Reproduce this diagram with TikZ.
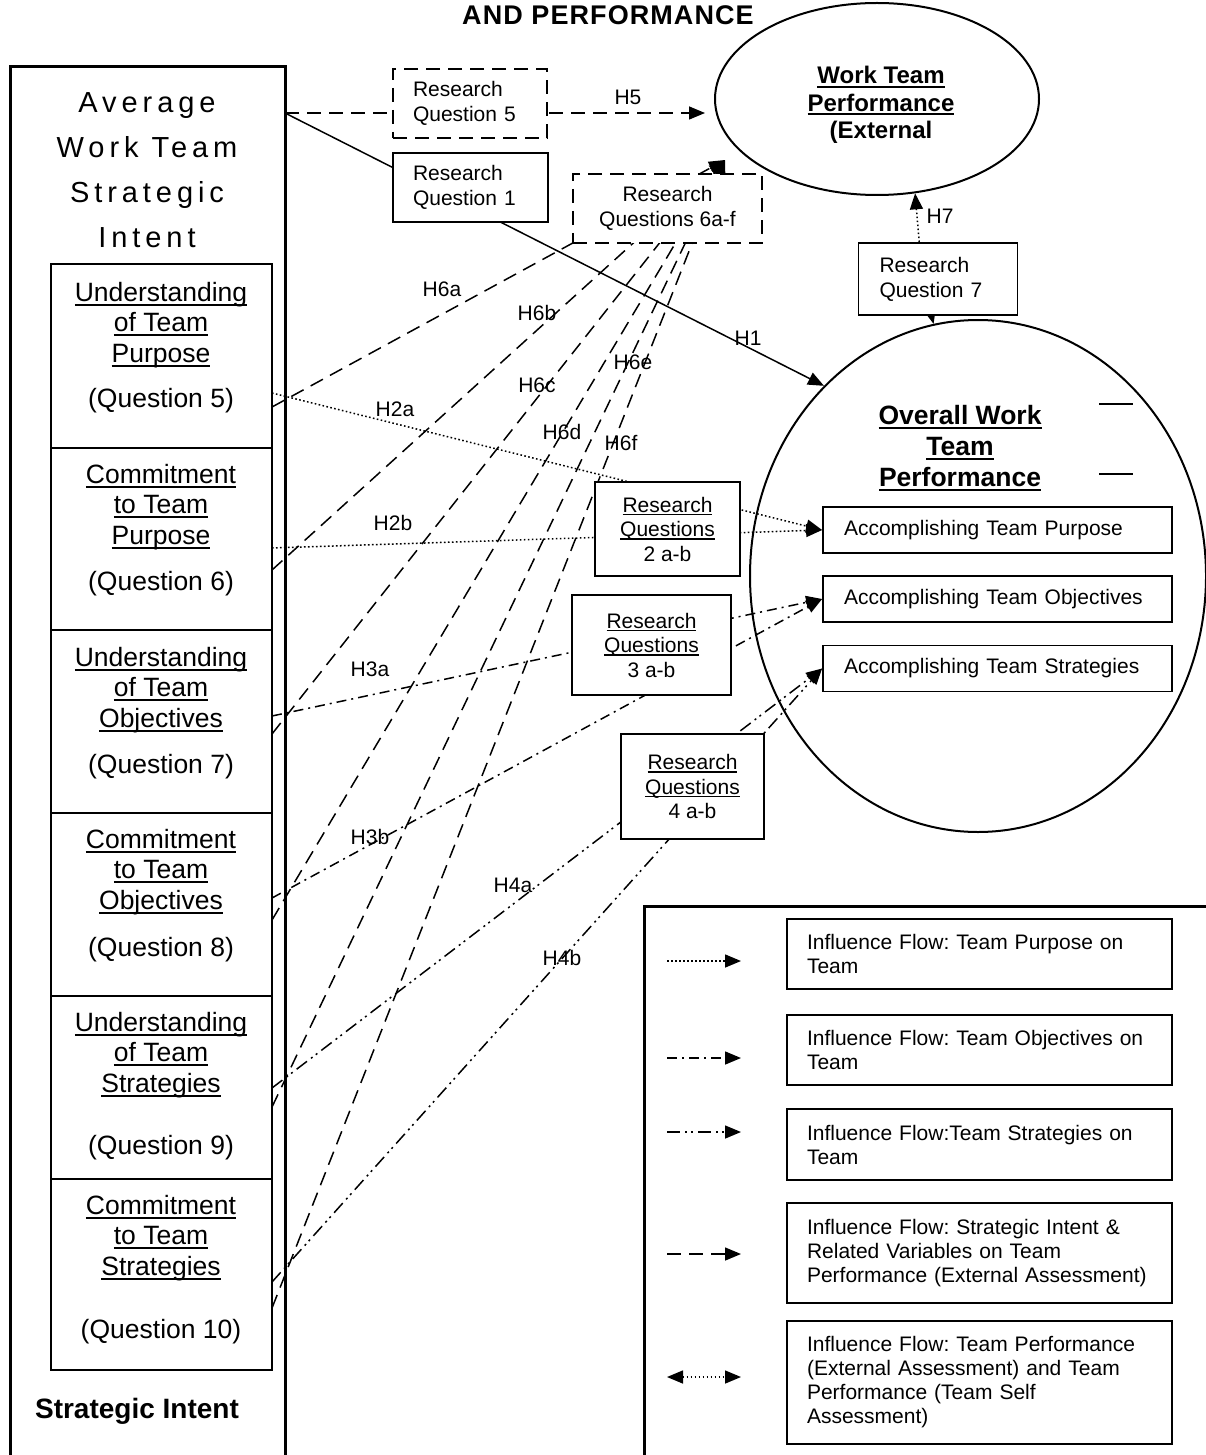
\documentclass[tikz,border=0pt]{standalone}
\usepackage{fontspec}
\setmainfont{Liberation Sans}
\newfontfamily\spacedfont[LetterSpace=17]{Liberation Sans}
\newfontfamily\headfont[LetterSpace=4]{Liberation Sans}
\usetikzlibrary{arrows.meta,shapes.geometric,backgrounds}
\frenchspacing
\newcommand{\fsz}[2]{\fontsize{#1}{#2}\selectfont}
\newsavebox{\ulinebox}
\newcommand{\undl}[1]{\sbox{\ulinebox}{#1}\rlap{\rule[-0.16em]{\wd\ulinebox}{0.07em}}\usebox{\ulinebox}}
\tikzset{
  conn/.style={line width=1.5pt},
  dotline/.style={conn,dash pattern=on 1.6pt off 2.4pt},
  objline/.style={conn,dash pattern=on 10pt off 5pt on 2pt off 5pt},
  stratline/.style={conn,dash pattern=on 13pt off 5pt on 2pt off 4pt on 2pt off 5pt},
  intline/.style={conn,dash pattern=on 14pt off 8pt},
  rqbox/.style={draw,fill=white,line width=1.8pt,inner sep=0pt,font=\fsz{21}{25}},
  rqleft/.style={rqbox,align=left,inner xsep=20pt},
  rqmid/.style={rqbox,align=center,font=\fsz{21}{24.5}},
  accbox/.style={draw,line width=1.8pt,text width=307pt,inner xsep=21pt,inner ysep=0pt,minimum height=46pt,align=left,font=\fsz{21}{25}},
  legbox/.style={draw,line width=1.8pt,text width=345pt,inner xsep=20pt,inner ysep=0pt,align=left,font=\fsz{21}{24}},
  celltext/.style={align=center,font=\fsz{26.5}{30.5}},
  hlabel/.style={font=\fsz{21}{25}},
}
\begin{document}
\begin{tikzpicture}[x=1pt,y=-1pt,line width=1.5pt,>={Triangle[length=16pt,width=13pt]}]
\useasboundingbox (0,0) rectangle (1206,1455);
\clip (0,0) rectangle (1206,1455);

\node[anchor=base,font=\headfont\bfseries\fsz{27}{30}] (title) at (608,25) {AND PERFORMANCE};

% strategic intent column
\draw[line width=3pt] (10,67) rectangle (285,1480);
\node[align=center,font=\spacedfont\fsz{29}{45}] (avg) at (147,170) {Average\\Work Team\\Strategic\\Intent};
\foreach \t/\b in {264/448,448/630,630/813,813/996,996/1179,1179/1370}
  \draw[line width=2pt] (51,\t) rectangle (272,\b);
\node[celltext] (u1) at (161,325) {\undl{Understanding}\\\undl{of Team}\\\undl{Purpose}};
\node[celltext] (q1) at (161,401) {(Question 5)};
\node[celltext] (u2) at (161,507) {\undl{Commitment}\\\undl{to Team}\\\undl{Purpose}};
\node[celltext] (q2) at (161,584) {(Question 6)};
\node[celltext] (u3) at (161,690) {\undl{Understanding}\\\undl{of Team}\\\undl{Objectives}};
\node[celltext] (q3) at (161,767) {(Question 7)};
\node[celltext] (u4) at (161,872) {\undl{Commitment}\\\undl{to Team}\\\undl{Objectives}};
\node[celltext] (q4) at (161,950) {(Question 8)};
\node[celltext] (u5) at (161,1055) {\undl{Understanding}\\\undl{of Team}\\\undl{Strategies}};
\node[celltext] (q5) at (161,1148) {(Question 9)};
\node[celltext] (u6) at (161,1238) {\undl{Commitment}\\\undl{to Team}\\\undl{Strategies}};
\node[celltext] (q6) at (161,1332) {(Question 10)};
\node[anchor=base,font=\bfseries\fsz{28}{32}] (sitxt) at (137,1418) {Strategic Intent};

% performance
\node[draw,ellipse,line width=2pt,minimum width=324pt,minimum height=192pt,inner sep=0pt] (perfext) at (877,99) {};
\node[align=center,font=\bfseries\fsz{24}{27.5}] (perfexttxt) at (881,105) {\undl{Work Team}\\\undl{Performance}\\(External};
\node[draw,ellipse,line width=2pt,minimum width=456pt,minimum height=512pt,inner sep=0pt] (overall) at (978,576) {};
\node[align=center,font=\bfseries\fsz{26.5}{31}] (overalltxt) at (960,448) {\undl{Overall Work}\\\undl{Team}\\\undl{Performance}};
\draw (1099,404) -- (1133,404);
\draw (1099,474) -- (1133,474);
\node[accbox] (acc1) at (997.5,530) {Accomplishing Team Purpose};
\node[accbox] (acc2) at (997.5,599) {Accomplishing Team Objectives};
\node[accbox] (acc3) at (997.5,668.5) {Accomplishing Team Strategies};

% research questions
\node[rqleft,intline,text width=114pt,minimum height=69pt] (rq5) at (470,103.5) {Research\\Question 5};
\node[rqleft,text width=115pt,minimum height=69pt] (rq1) at (470.5,187.5) {Research\\Question 1};
\node[rqmid,intline,minimum width=189pt,minimum height=69pt] (rq6) at (667.5,208.5) {Research\\Questions 6a-f};
\node[rqleft,text width=117pt,inner xsep=21pt,minimum height=72pt] (rq7) at (938,279) {Research\\Question 7};
\node[rqmid,minimum width=145pt,minimum height=94pt] (rq2) at (667.5,529) {\undl{Research}\\\undl{Questions}\\2 a-b};
\node[rqmid,minimum width=159pt,minimum height=100pt] (rq3) at (651.5,645) {\undl{Research}\\\undl{Questions}\\3 a-b};
\node[rqmid,minimum width=143pt,minimum height=105pt] (rq4) at (692.5,786.5) {\undl{Research}\\\undl{Questions}\\4 a-b};

% start and end points
\coordinate (avgout) at (285,113);
\coordinate (h5tip) at (705,113);
\coordinate (h6tip) at (725,160);
\foreach \nm/\yy in {s2a/393,s6a/407,s2b/548,s6b/570,s3a/716,s6c/734,s3b/898,s6d/920,s4a/1088,s6e/1107,s4b/1282,s6f/1308}
  \coordinate (\nm) at (272,\yy);

\begin{scope}[on background layer]
\draw[conn,->] (avgout) -- (overall.129);
\draw[intline,->] (avgout) -- (h5tip);
\draw[dotline,->] (rq7.117) -- (perfext.292);
\draw[dotline,->] (rq7.260) -- (overall.100);
\draw[dotline,->] (s2a) -- (acc1.west);
\draw[dotline,->] (s2b) -- (acc1.west);
\draw[objline,->] (s3a) -- (acc2.west);
\draw[objline,->] (s3b) -- (acc2.west);
\draw[stratline,->] (s4a) -- (acc3.west);
\draw[stratline,->] (s4b) -- (acc3.west);
\foreach \s in {s6a,s6b,s6c,s6d,s6e,s6f}
  \draw[intline,->] (\s) -- (h6tip);
\end{scope}

% hypotheses
\node[hlabel] (lh5) at (628,97) {H5};
\node[hlabel] (lh1) at (748,338) {H1};
\node[hlabel] (lh7) at (940,216) {H7};
\node[hlabel] (lh6a) at (442,289) {H6a};
\node[hlabel] (lh6b) at (537,313) {H6b};
\node[hlabel] (lh6c) at (537,385) {H6c};
\node[hlabel] (lh6d) at (562,432) {H6d};
\node[hlabel] (lh6e) at (633,362) {H6e};
\node[hlabel] (lh6f) at (621,443) {H6f};
\node[hlabel] (lh2a) at (395,409) {H2a};
\node[hlabel] (lh2b) at (393,523) {H2b};
\node[hlabel] (lh3a) at (370,669) {H3a};
\node[hlabel] (lh3b) at (370,837) {H3b};
\node[hlabel] (lh4a) at (513,885) {H4a};
\node[hlabel] (lh4b) at (562,958) {H4b};

% legend
\draw[line width=3pt] (644,906) rectangle (1240,1480);
\node[legbox,minimum height=70pt] (lg1) at (979.5,954) {Influence Flow: Team Purpose on\\Team};
\node[legbox,minimum height=70pt] (lg2) at (979.5,1050) {Influence Flow: Team Objectives on\\Team};
\node[legbox,minimum height=71pt] (lg3) at (979.5,1144.5) {Influence Flow:Team Strategies on\\Team};
\node[legbox,minimum height=100pt] (lg4) at (979.5,1253) {Influence Flow: Strategic Intent \&\\Related Variables on Team\\Performance (External Assessment)};
\node[legbox,minimum height=123pt] (lg5) at (979.5,1382.5) {Influence Flow: Team Performance\\(External Assessment) and Team\\Performance (Team Self\\Assessment)};
\foreach \yy/\sty [count=\i] in {961/dotline,1058/objline,1132/stratline,1254/intline}{
  \coordinate (ls\i) at (667,\yy);
  \coordinate (le\i) at (741,\yy);
  \draw[\sty,->] (ls\i) -- (le\i);
}
\coordinate (ls5) at (667,1377);
\coordinate (le5) at (741,1377);
\draw[dotline,<->] (ls5) -- (le5);
\end{tikzpicture}
\end{document}
